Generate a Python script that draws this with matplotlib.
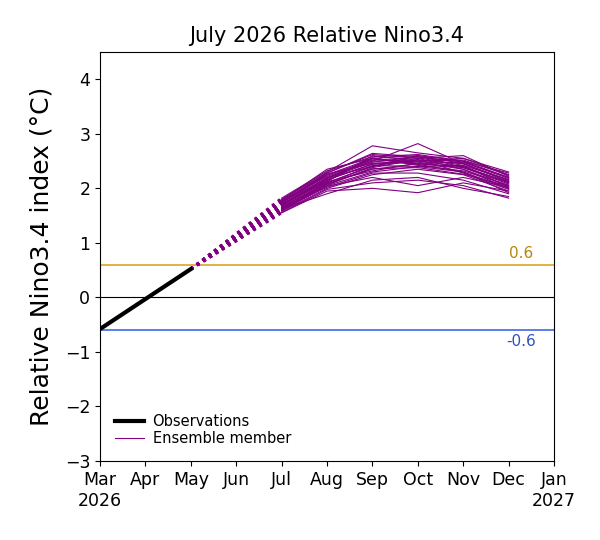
import matplotlib
matplotlib.use('Agg')
import matplotlib.pyplot as plt
import numpy as np

month_labels = ['Mar\n2026', 'Apr', 'May', 'Jun', 'Jul', 'Aug', 'Sep', 'Oct', 'Nov', 'Dec', 'Jan\n2027']
obs_months = [0, 1, 2]
obs_values = [-0.58, -0.03, 0.52]
fc_months = [4, 5, 6, 7, 8, 9]  # Jul..Dec

# ensemble members, Jul..Dec
members = [
    [1.70, 2.15, 2.45, 2.50, 2.40, 2.10],
    [1.65, 2.10, 2.40, 2.55, 2.35, 2.05],
    [1.75, 2.25, 2.55, 2.60, 2.50, 2.20],
    [1.60, 2.05, 2.30, 2.40, 2.30, 2.00],
    [1.80, 2.30, 2.78, 2.65, 2.55, 2.25],
    [1.55, 1.95, 2.00, 1.92, 2.10, 1.95],
    [1.68, 2.20, 2.50, 2.82, 2.45, 2.15],
    [1.72, 2.12, 2.60, 2.50, 2.55, 2.30],
    [1.62, 1.90, 2.15, 2.20, 2.00, 1.85],
    [1.78, 2.35, 2.55, 2.45, 2.40, 2.10],
    [1.58, 2.00, 2.25, 2.35, 2.25, 1.95],
    [1.70, 2.18, 2.48, 2.58, 2.48, 2.18],
    [1.66, 2.08, 2.35, 2.45, 2.38, 2.08],
    [1.74, 2.28, 2.62, 2.55, 2.60, 2.22],
    [1.64, 2.02, 2.28, 2.28, 2.15, 1.90],
    [1.76, 2.22, 2.50, 2.52, 2.45, 2.12],
    [1.60, 2.10, 2.42, 2.40, 2.42, 2.02],
    [1.82, 2.32, 2.58, 2.62, 2.50, 2.28],
    [1.56, 1.98, 2.10, 2.15, 2.05, 1.82],
    [1.69, 2.16, 2.44, 2.48, 2.35, 2.00],
    [1.73, 2.24, 2.52, 2.56, 2.42, 2.16],
    [1.63, 2.06, 2.38, 2.53, 2.28, 1.98],
    [1.77, 2.26, 2.46, 2.50, 2.52, 2.24],
    [1.67, 2.14, 2.56, 2.42, 2.32, 2.06],
    [1.71, 2.20, 2.40, 2.60, 2.38, 2.12],
    [1.59, 2.04, 2.20, 2.05, 2.20, 2.02],
    [1.79, 2.28, 2.64, 2.58, 2.46, 2.14],
    [1.65, 2.12, 2.32, 2.46, 2.48, 2.20],
    [1.75, 2.18, 2.54, 2.44, 2.30, 1.92],
    [1.62, 2.08, 2.36, 2.38, 2.26, 2.04],
]
thresholds = [0.6, -0.6]

purple = '#800080'
fig = plt.figure(figsize=(6, 5.4), dpi=100)
ax = fig.add_axes([0.1667, 0.1463, 0.7567, 0.7574])

ax.axhline(0, color='black', lw=0.8)
ax.axhline(thresholds[0], color='#DAA520', lw=1.2)
ax.axhline(thresholds[1], color='#4169E1', lw=1.2)
ax.text(9.27, thresholds[0] + 0.07, '0.6', color='#B8860B', fontsize=11, ha='center', va='bottom')
ax.text(9.27, thresholds[1] - 0.07, '-0.6', color='#3050C0', fontsize=11, ha='center', va='top')

for i, m in enumerate(members):
    # dotted bridge from last observation to first forecast month
    ax.plot([obs_months[-1], fc_months[0]], [obs_values[-1], m[0]], ':', color=purple, lw=2.0)
    ax.plot(fc_months, m, '-', color=purple, lw=0.8,
            label='Ensemble member' if i == 0 else None)

ax.plot(obs_months, obs_values, '-', color='black', lw=3, label='Observations')

handles, labels = ax.get_legend_handles_labels()
ax.legend(handles[::-1], labels[::-1], loc='lower left', frameon=False, fontsize=10.5,
          handlelength=2.0, handletextpad=0.6, labelspacing=0.15, borderaxespad=0.6)

ax.set_xlim(0, 10)
ax.set_ylim(-3, 4.5)
ax.set_xticks(range(11))
ax.set_xticklabels(month_labels, fontsize=12.5)
ax.set_yticks(range(-3, 5))
ax.set_yticklabels([f'{v}'.replace('-', '\u2212') for v in range(-3, 5)], fontsize=12.5)
ax.set_ylabel('Relative Nino3.4 index (\u00b0C)', fontsize=18, labelpad=8)
ax.set_title('July 2026 Relative Nino3.4', fontsize=15, pad=7)

fig.savefig('out.png', dpi=100)
